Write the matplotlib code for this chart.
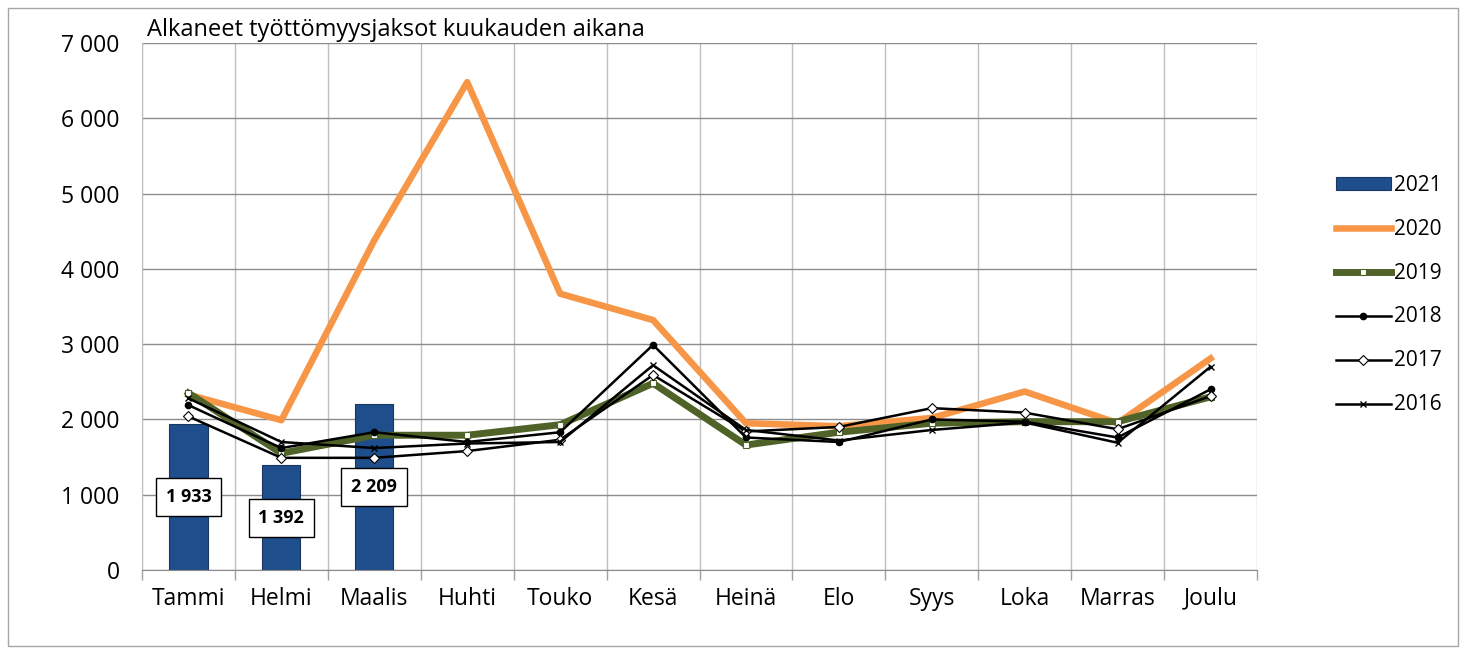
import matplotlib
matplotlib.use("Agg")
import matplotlib.pyplot as plt
from matplotlib.ticker import FuncFormatter, MultipleLocator
from matplotlib.patches import Rectangle
import numpy as np

months = ["Tammi", "Helmi", "Maalis", "Huhti", "Touko", "Kesä", "Heinä",
          "Elo", "Syys", "Loka", "Marras", "Joulu"]
y2021 = [1933, 1392, 2209]
y2020 = [2330, 1990, 4380, 6480, 3670, 3320, 1950, 1910, 2020, 2370, 1950, 2810]
y2019 = [2350, 1550, 1790, 1790, 1930, 2480, 1660, 1830, 1950, 1970, 1970, 2300]
y2018 = [2190, 1620, 1830, 1700, 1830, 2990, 1760, 1700, 2000, 1970, 1760, 2400]
y2017 = [2040, 1490, 1490, 1580, 1730, 2590, 1840, 1900, 2150, 2090, 1870, 2310]
y2016 = [2280, 1700, 1620, 1680, 1700, 2720, 1860, 1720, 1860, 1960, 1690, 2700]

plt.rcParams['font.family'] = ['Open Sans', 'DejaVu Sans']

fig = plt.figure(figsize=(14.61, 6.48), dpi=100)
fig.patch.set_facecolor("white")
fig.add_artist(Rectangle((8/1461, 2/648), 1450/1461, 638/648, transform=fig.transFigure,
                         fill=False, edgecolor="#a6a6a6", linewidth=1))

ax = fig.add_axes([142/1461, 1 - 570/648, (1257-142)/1461, (570-43)/648])
x = np.arange(len(months))

bars = ax.bar(x[:len(y2021)], y2021, width=0.41, color="#1f4e8c",
              edgecolor="#17375e", linewidth=0.8, label="2021", zorder=2)
for xi, v in zip(x, y2021):
    lbl = f"{v:,}".replace(",", " ")
    ax.text(xi, v / 2, lbl, ha="center", va="center", fontsize=13, fontweight="bold",
            zorder=6, bbox=dict(boxstyle="square,pad=0.55", facecolor="white",
                                edgecolor="black", linewidth=1))

l20, = ax.plot(x, y2020, color="#f79646", linewidth=4.7, label="2020", zorder=3)
l19, = ax.plot(x, y2019, color="#4f6228", linewidth=5, marker="s", markersize=5,
               markerfacecolor="white", markeredgecolor="#4f6228", markeredgewidth=0.8,
               label="2019", zorder=3)
l18, = ax.plot(x, y2018, color="black", linewidth=1.8, marker="o", markersize=4.5,
               markerfacecolor="black", label="2018", zorder=4)
l17, = ax.plot(x, y2017, color="black", linewidth=1.8, marker="D", markersize=5,
               markerfacecolor="white", markeredgecolor="black", markeredgewidth=0.8,
               label="2017", zorder=4)
l16, = ax.plot(x, y2016, color="black", linewidth=1.8, marker="x", markersize=5,
               markeredgewidth=1, label="2016", zorder=4)

ax.set_xlim(-0.5, len(months) - 0.5)
ax.set_ylim(0, 7000)
ax.yaxis.set_major_locator(MultipleLocator(1000))
ax.yaxis.set_major_formatter(FuncFormatter(lambda v, p: f"{int(v):,}".replace(",", " ")))
ax.set_xticks(x)
ax.set_xticklabels(months)
ax.set_xticks(np.arange(-0.5, len(months)), minor=True)
ax.tick_params(axis="x", which="major", length=0, labelsize=16.5, pad=12, colors="black")
ax.tick_params(axis="x", which="minor", length=7, color="#a0a0a0", width=1)
ax.tick_params(axis="y", which="major", length=0, labelsize=16.5, pad=16, colors="black")
ax.grid(axis="y", which="major", color="#8c8c8c", linewidth=1, zorder=0)
ax.grid(axis="x", which="minor", color="#bfbfbf", linewidth=1, zorder=0)
ax.set_axisbelow(True)
for s in ["top", "right"]:
    ax.spines[s].set_visible(False)
ax.spines["left"].set_color("#bfbfbf")
ax.spines["bottom"].set_color("#8c8c8c")

fig.text(147/1461, 1 - 30/648, "Alkaneet työttömyysjaksot kuukauden aikana",
         fontsize=17, ha="left", va="center")

leg = fig.legend(handles=[bars, l20, l19, l18, l17, l16],
                 labels=["2021", "2020", "2019", "2018", "2017", "2016"],
                 loc="upper left", bbox_to_anchor=(1317/1461, 1 - 156/648),
                 frameon=False, fontsize=15, labelspacing=1.1, handlelength=2.65,
                 handletextpad=0.15, handleheight=0.55)

fig.savefig("out.png", dpi=100, facecolor="white")
